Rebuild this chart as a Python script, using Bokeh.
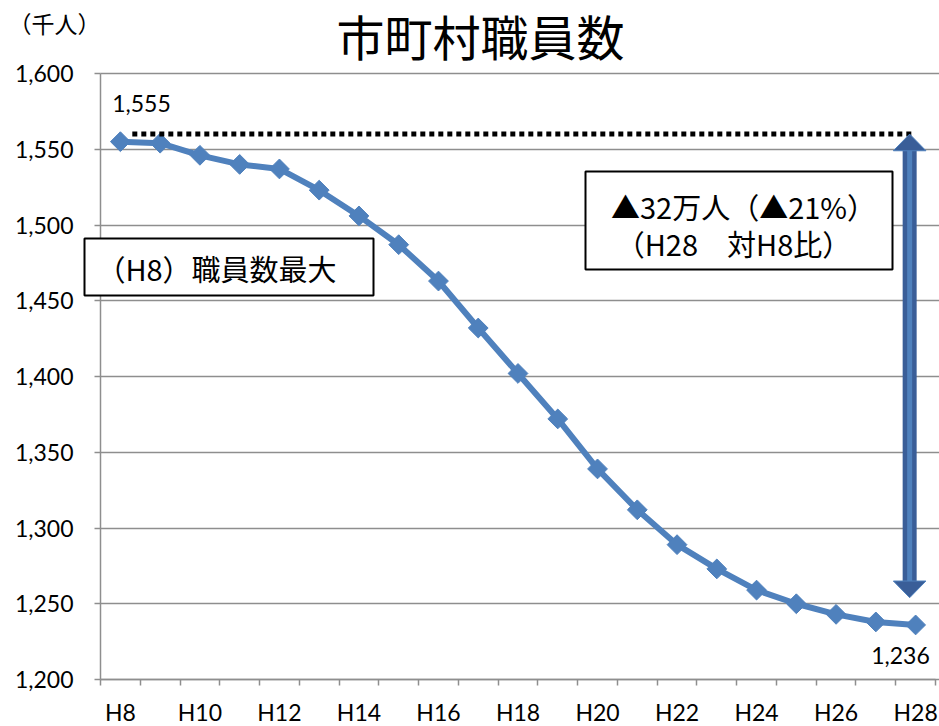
import numpy as np
from bokeh.plotting import figure
from bokeh.models import Range1d, FixedTicker, NumeralTickFormatter, Label, BoxAnnotation
from bokeh.embed import file_html
from bokeh.resources import INLINE

# ---- data ----
years = ["H8", "H9", "H10", "H11", "H12", "H13", "H14", "H15", "H16", "H17", "H18",
         "H19", "H20", "H21", "H22", "H23", "H24", "H25", "H26", "H27", "H28"]
staff = [1555, 1554, 1546, 1540, 1537, 1523, 1506, 1487, 1463, 1432, 1402,
         1372, 1339, 1312, 1289, 1273, 1259, 1250, 1243, 1238, 1236]
y_ticks = [1200, 1250, 1300, 1350, 1400, 1450, 1500, 1550, 1600]
title_text = "市町村職員数"
unit_text = "（千人）"
box1_text = "（H8）職員数最大"
box2_lines = ["▲32万人（▲21%）", "（H28　対H8比）"]
peak_level = 1560      # dotted reference line
arrow_bottom = 1254    # lower tip of the double arrow

CJK = "Noto Sans CJK JP"
LAT = "Lato"
blue = "#4F81BD"
dark = "#3A5E98"
grid = "#8E8E8E"

# ---- layout (pixels) ----
W, H = 939, 726
ax_left, ax_right, ax_top, ax_bottom = 100, 935, 73, 679

n = len(years)
xs = list(range(n))
x0, x1 = -0.5, n - 0.5
y0, y1 = y_ticks[0], y_ticks[-1]
sx = (ax_right - ax_left) / (x1 - x0)
sy = (ax_bottom - ax_top) / (y1 - y0)
x_range = Range1d(x0 - ax_left / sx, x1 + (W - ax_right) / sx)
y_range = Range1d(y0 - (H - ax_bottom) / sy, y1 + ax_top / sy)

p = figure(width=W, height=H, x_range=x_range, y_range=y_range,
           output_backend="svg", toolbar_location=None,
           min_border_left=0, min_border_top=0, min_border_bottom=0, min_border_right=0)
p.outline_line_color = None
p.background_fill_color = "white"

# axes (pinned inside the canvas-wide frame)
p.xaxis.fixed_location = y0
p.xaxis.bounds = (x0, x1)
p.xaxis.ticker = FixedTicker(ticks=xs[::2], minor_ticks=[i - 0.5 for i in range(n + 1)])
p.xaxis.major_label_overrides = {i: years[i] for i in xs[::2]}
p.xaxis.major_tick_line_color = None
p.xaxis.major_tick_out = 0
p.xaxis.major_tick_in = 0
p.xaxis.minor_tick_line_color = grid
p.xaxis.minor_tick_line_width = 1.5
p.xaxis.minor_tick_out = 6
p.xaxis.minor_tick_in = 0
p.xaxis.major_label_standoff = 12
p.xaxis.major_label_text_font = LAT
p.xaxis.major_label_text_font_size = "23px"
p.xaxis.major_label_text_color = "black"
p.xaxis.axis_line_color = grid
p.xaxis.axis_line_width = 1.5

p.yaxis.fixed_location = x0
p.yaxis.bounds = (y0, y1)
p.yaxis.ticker = FixedTicker(ticks=y_ticks)
p.yaxis.formatter = NumeralTickFormatter(format="0,0")
p.yaxis.major_tick_out = 6
p.yaxis.major_tick_in = 0
p.yaxis.major_tick_line_color = grid
p.yaxis.major_tick_line_width = 1.5
p.yaxis.minor_tick_line_color = None
p.yaxis.major_label_standoff = 21
p.yaxis.major_label_text_font = LAT
p.yaxis.major_label_text_font_size = "23px"
p.yaxis.major_label_text_color = "black"
p.yaxis.axis_line_color = grid
p.yaxis.axis_line_width = 1.5

p.xgrid.grid_line_color = None
p.ygrid.grid_line_color = grid
p.ygrid.grid_line_width = 1.5
p.ygrid.bounds = (y0 + 1, y1)
p.ygrid.cross_bounds = (x0, x_range.end)

# series
p.line(xs, staff, line_color=blue, line_width=6)
p.scatter(xs, staff, marker="square", angle=np.pi / 4, size=14,
          fill_color=blue, line_color=blue)

# dotted reference line from peak
ax = n - 1 - 0.15
p.segment(x0=[0.3], y0=[peak_level], x1=[ax + 0.1], y1=[peak_level],
          line_color="black", line_width=5, line_dash="5 4")

# double arrow
hw, hh = 0.41, 11
p.segment(x0=[ax], y0=[peak_level - hh + 1], x1=[ax], y1=[arrow_bottom + hh - 1],
          line_color=dark, line_width=14)
p.segment(x0=[ax], y0=[peak_level - hh + 1], x1=[ax], y1=[arrow_bottom + hh - 1],
          line_color=blue, line_width=5)
p.patches(xs=[[ax - hw, ax, ax + hw], [ax - hw, ax, ax + hw]],
          ys=[[peak_level - hh, peak_level, peak_level - hh],
              [arrow_bottom + hh, arrow_bottom, arrow_bottom + hh]],
          fill_color=dark, line_color=blue, line_width=1)

# data labels
p.add_layout(Label(x=0.53, y=staff[0] + 25, text=f"{staff[0]:,}", text_font=LAT,
                   text_font_size="23px", text_align="center", text_baseline="middle",
                   text_color="black"))
p.add_layout(Label(x=n - 1 - 0.38, y=staff[-1] - 20, text=f"{staff[-1]:,}", text_font=LAT,
                   text_font_size="23px", text_align="center", text_baseline="middle",
                   text_color="black"))

# box 1
p.add_layout(BoxAnnotation(left=84, right=373, top=238, bottom=295,
                           left_units="canvas", right_units="canvas",
                           top_units="canvas", bottom_units="canvas",
                           fill_color="white", fill_alpha=1, line_color="black",
                           line_width=2, line_alpha=1))
p.add_layout(Label(x=216, y=267, x_units="canvas", y_units="canvas", text=box1_text,
                   text_font=CJK, text_font_size="29px",
                   text_align="center", text_baseline="middle", text_color="black"))

# box 2
p.add_layout(BoxAnnotation(left=585, right=892, top=171, bottom=269,
                           left_units="canvas", right_units="canvas",
                           top_units="canvas", bottom_units="canvas",
                           fill_color="white", fill_alpha=1, line_color="black",
                           line_width=2, line_alpha=1))
p.add_layout(Label(x=743, y=205, x_units="canvas", y_units="canvas", text=box2_lines[0],
                   text_font=CJK, text_font_size="29px",
                   text_align="center", text_baseline="middle", text_color="black"))
p.add_layout(Label(x=733, y=242, x_units="canvas", y_units="canvas", text=box2_lines[1],
                   text_font=CJK, text_font_size="29px",
                   text_align="center", text_baseline="middle", text_color="black"))

# title and unit
p.add_layout(Label(x=480, y=34, x_units="canvas", y_units="canvas", text=title_text,
                   text_font=CJK, text_font_size="48px",
                   text_align="center", text_baseline="middle", text_color="black"))
p.add_layout(Label(x=8, y=22, x_units="canvas", y_units="canvas", text=unit_text,
                   text_font=CJK, text_font_size="23px",
                   text_align="left", text_baseline="middle", text_color="black"))

open("out.html", "w").write(file_html(p, INLINE))
